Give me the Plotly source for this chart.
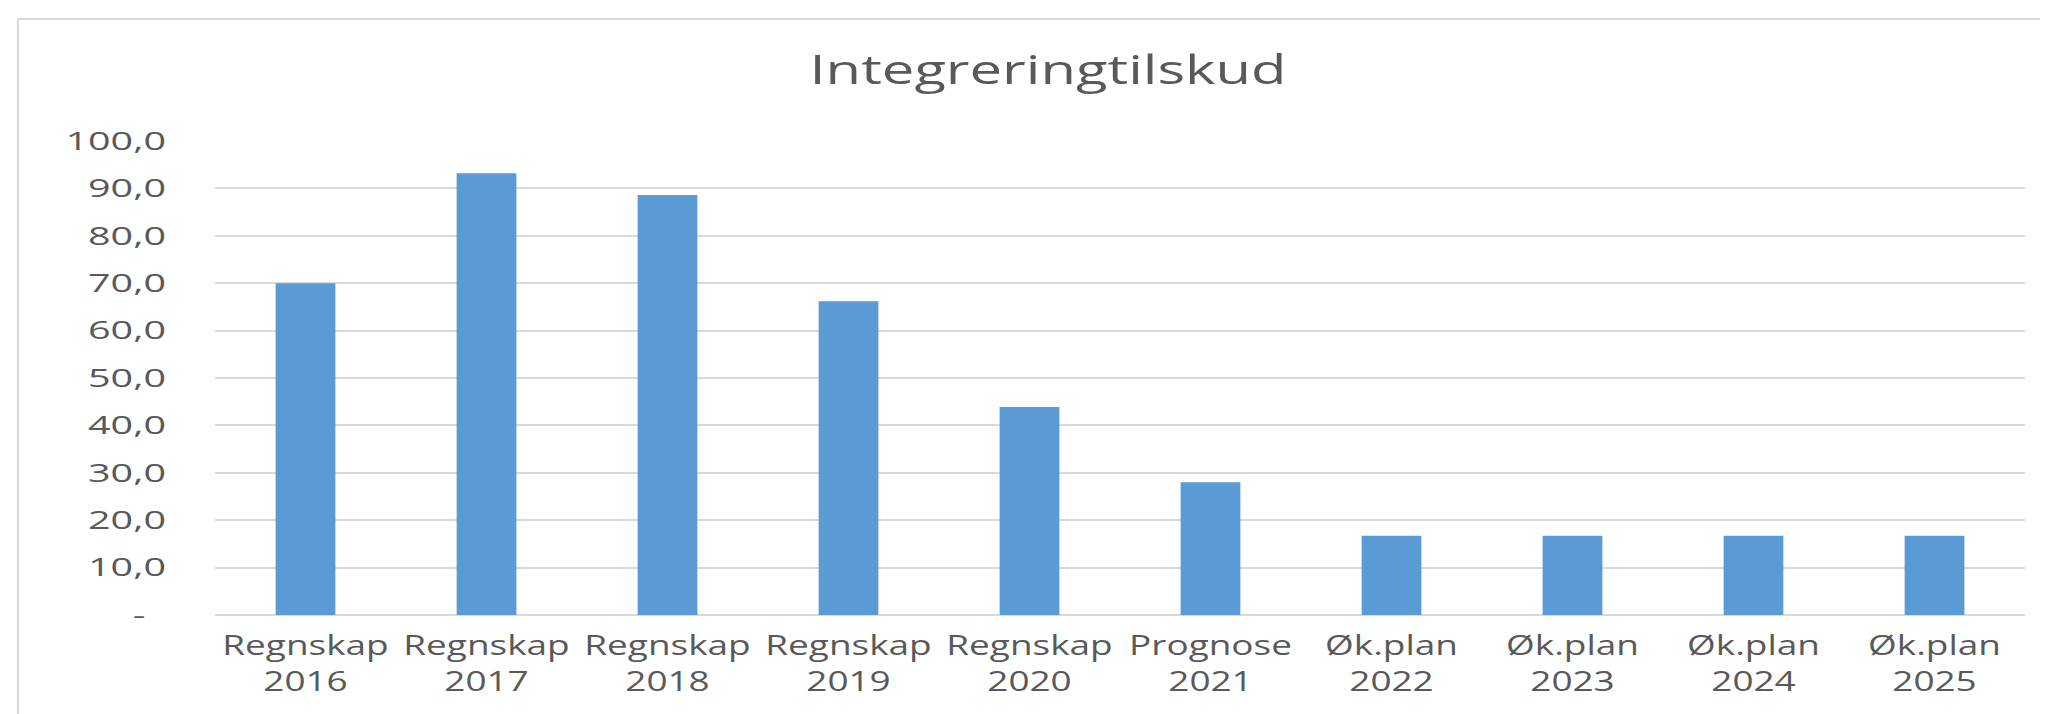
import plotly.graph_objects as go

categories = ["Regnskap<br>2016", "Regnskap<br>2017", "Regnskap<br>2018", "Regnskap<br>2019",
              "Regnskap<br>2020", "Prognose<br>2021", "Øk.plan<br>2022", "Øk.plan<br>2023",
              "Øk.plan<br>2024", "Øk.plan<br>2025"]
values = [70.0, 93.2, 88.6, 66.2, 43.9, 28.0, 16.7, 16.7, 16.7, 16.7]
ytick_vals = [0, 10, 20, 30, 40, 50, 60, 70, 80, 90, 100]
ytick_text = ["-\u00a0\u00a0", "10,0", "20,0", "30,0", "40,0", "50,0", "60,0", "70,0", "80,0", "90,0", "100,0"]
title_text = "Integreringtilskud"

W, H = 2048, 714
L, R, T, B = 207, 2017, 133, 607

fig = go.Figure(go.Bar(x=categories, y=values, marker=dict(color="#5B9BD5", line=dict(width=0))))

font = "Open Sans, Lato, sans-serif"
fig.update_layout(
    width=W, height=H,
    margin=dict(l=L, r=W - R, t=T, b=H - B, pad=0),
    paper_bgcolor="white", plot_bgcolor="white",
    bargap=0.67,
    showlegend=False,
    title=dict(text=title_text, x=1040 / W, xanchor="center", y=1 - 62 / H, yanchor="middle",
               font=dict(family=font, size=40, color="#595959")),
    xaxis=dict(showgrid=False, showline=False, ticks="", tickfont=dict(family=font, size=28, color="#595959"),
               ticklabelstandoff=11),
    yaxis=dict(range=[0, 100], tickvals=ytick_vals, ticktext=ytick_text, showgrid=True,
               gridcolor="#d9d9d9", gridwidth=2, zeroline=True, zerolinecolor="#d9d9d9", zerolinewidth=2,
               showline=False, ticks="", ticklabelstandoff=48,
               tickfont=dict(family=font, size=25, color="#595959")),
)

# outer chart border (light gray) on left and top
px = lambda x: (x - L) / (R - L)
py = lambda y: (B - y) / (B - T)
fig.add_shape(type="line", xref="paper", yref="paper", x0=px(10), x1=px(10), y0=py(11), y1=py(720),
              line=dict(color="#d9d9d9", width=2))
fig.add_shape(type="line", xref="paper", yref="paper", x0=px(10), x1=px(2060), y0=py(11), y1=py(11),
              line=dict(color="#d9d9d9", width=2))

# the reference text is horizontally stretched; widen the real text glyphs to match
post = """
var gd = document.getElementById('{plot_id}');
function stretch(sel, s){
  gd.querySelectorAll(sel).forEach(function(t){
    var bb = t.getBBox();
    var a = t.getAttribute('text-anchor');
    var cx = a === 'end' ? bb.x + bb.width : (a === 'start' ? bb.x : bb.x + bb.width / 2);
    var tr = t.getAttribute('transform') || '';
    t.setAttribute('transform', tr + ' translate(' + cx + ',0) scale(' + s + ',1) translate(' + (-cx) + ',0)');
  });
}
stretch('.xtick text', 1.32);
stretch('.ytick text', 1.58);
stretch('.gtitle', 1.45);
"""

fig.write_html("out.html", post_script=post, config={"responsive": False, "displayModeBar": False})
